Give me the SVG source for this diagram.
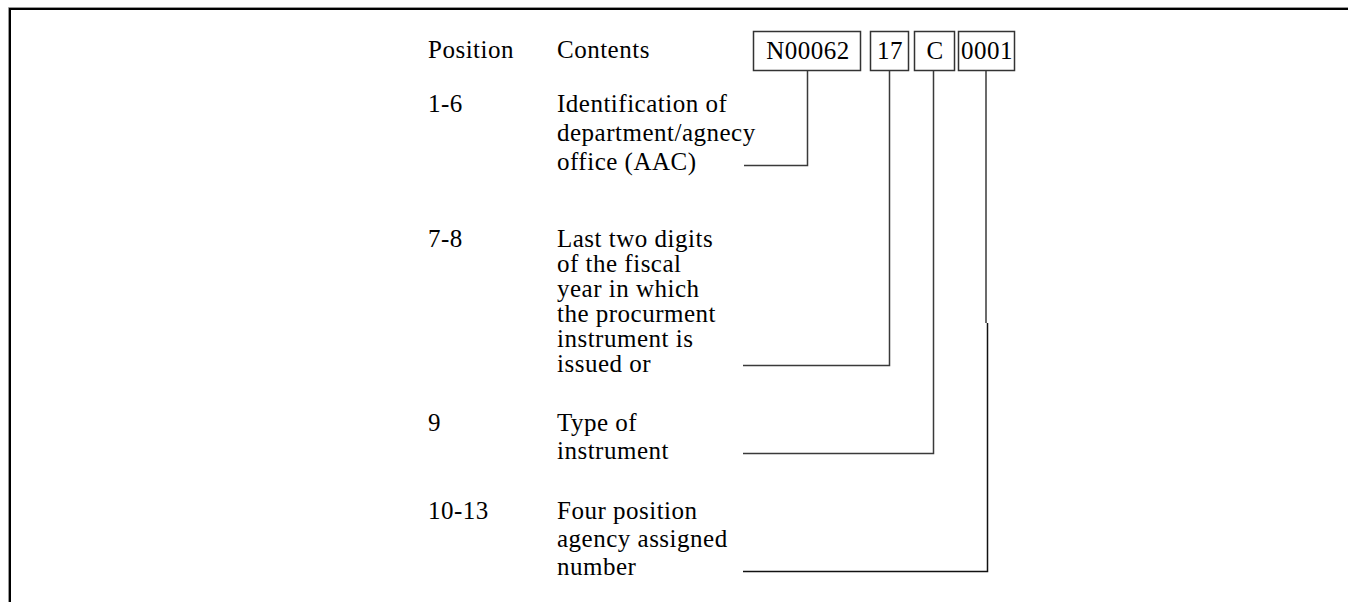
<svg xmlns="http://www.w3.org/2000/svg" width="1348" height="602" viewBox="0 0 1348 602">
<style>
text{font-family:"Liberation Serif","Times New Roman",serif;font-size:25px;fill:#000;letter-spacing:0.5px}
.box{fill:#fff;stroke:#333;stroke-width:1.5}
.c{text-anchor:middle}
.conn{fill:none;stroke:#3a3a3a;stroke-width:1.5}
</style>
<rect width="1348" height="602" fill="#fff"/>
<g id="frame">
<path d="M8.5,602 V7.5 H1348" fill="none" stroke="#999" stroke-width="1"/>
<path d="M10,602 V9 H1348" fill="none" stroke="#000" stroke-width="2"/>
</g>
<g id="header">
<text x="428" y="58">Position</text>
<text x="557" y="58">Contents</text>
</g>
<g id="box-aac">
<rect class="box" x="753.5" y="31.5" width="107" height="39"/>
<text class="c" x="808" y="59">N00062</text>
</g>
<g id="box-fy">
<rect class="box" x="870.5" y="31.5" width="38" height="39"/>
<text class="c" x="890" y="59">17</text>
</g>
<g id="box-type">
<rect class="box" x="914.5" y="31.5" width="40" height="39"/>
<text class="c" x="935" y="59">C</text>
</g>
<g id="box-num">
<rect class="box" x="958.5" y="31.5" width="56" height="39"/>
<text class="c" x="987" y="59">0001</text>
</g>
<g id="row-1-6">
<text x="428" y="112">1-6</text>
<text x="557" y="112">Identification of</text>
<text x="557" y="141">department/agnecy</text>
<text x="557" y="170">office (AAC)</text>
</g>
<g id="row-7-8">
<text x="428" y="247">7-8</text>
<text x="557" y="247">Last two digits</text>
<text x="557" y="272">of the fiscal</text>
<text x="557" y="297">year in which</text>
<text x="557" y="322">the procurment</text>
<text x="557" y="347">instrument is</text>
<text x="557" y="372">issued or</text>
</g>
<g id="row-9">
<text x="428" y="431">9</text>
<text x="557" y="431">Type of</text>
<text x="557" y="459">instrument</text>
</g>
<g id="row-10-13">
<text x="428" y="519">10-13</text>
<text x="557" y="519">Four position</text>
<text x="557" y="547">agency assigned</text>
<text x="557" y="575">number</text>
</g>
<g id="connectors">
<path class="conn" d="M807.5,70.5 V165.5 H744"/>
<path class="conn" d="M889.5,70.5 V365.5 H743"/>
<path class="conn" d="M933.5,70.5 V453.5 H743"/>
<path class="conn" d="M986,70.5 V323"/>
<path class="conn" d="M987.5,323 V571.5 H743" style="stroke:#111"/>
</g>
</svg>
